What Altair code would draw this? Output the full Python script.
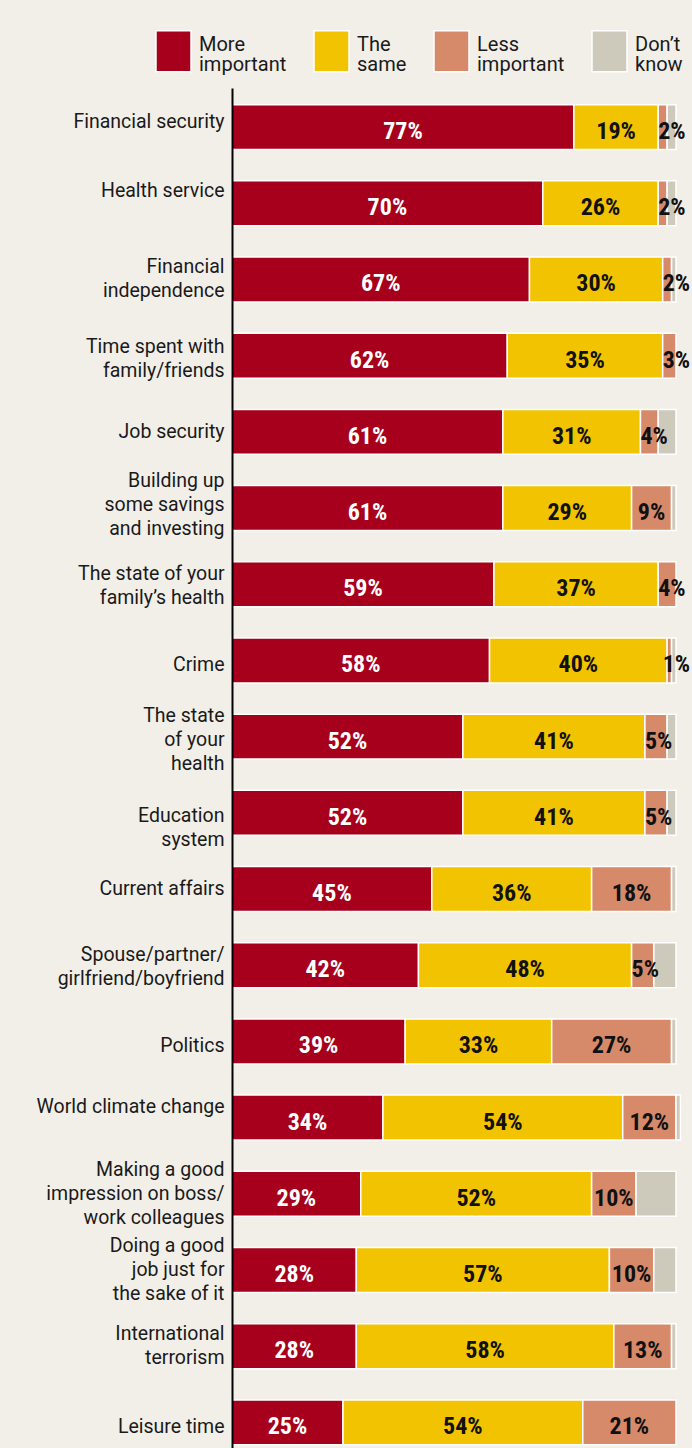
import altair as alt
import pandas as pd

categories = [
    "Financial security",
    "Health service",
    "Financial|independence",
    "Time spent with|family/friends",
    "Job security",
    "Building up|some savings|and investing",
    "The state of your|family\u2019s health",
    "Crime",
    "The state|of your|health",
    "Education|system",
    "Current affairs",
    "Spouse/partner/|girlfriend/boyfriend",
    "Politics",
    "World climate change",
    "Making a good|impression on boss/|work colleagues",
    "Doing a good|job just for|the sake of it",
    "International|terrorism",
    "Leisure time",
]
more_important = [77, 70, 67, 62, 61, 61, 59, 58, 52, 52, 45, 42, 39, 34, 29, 28, 28, 25]
the_same = [19, 26, 30, 35, 31, 29, 37, 40, 41, 41, 36, 48, 33, 54, 52, 57, 58, 54]
less_important = [2, 2, 2, 3, 4, 9, 4, 1, 5, 5, 18, 5, 27, 12, 10, 10, 13, 21]
dont_know = [2, 2, 1, 0, 4, 1, 0, 1, 2, 2, 1, 5, 1, 1, 9, 5, 1, 0]

responses = ["More important", "The same", "Less important", "Don\u2019t know"]
colors = ["#a6001c", "#f2c300", "#d68a6a", "#cdcabc"]

rows = []
for i, cat in enumerate(categories):
    vals = [more_important[i], the_same[i], less_important[i], dont_know[i]]
    s = 0
    for j, (resp, v) in enumerate(zip(responses, vals)):
        rows.append(dict(category=cat, response=resp, value=v, start=s, end=s + v, order=j))
        s += v
df = pd.DataFrame(rows)

LABEL_FONT = "Roboto"
NUM_FONT = "Liberation Sans Narrow, Roboto Condensed, DejaVu Sans Condensed, sans-serif"
LINE_H = 24

# label placement tweaks (styling): centre multi-line blocks, plus a few hand nudges
nudge = {
    "Financial security": -5,
    "Health service": -12,
    "Time spent with|family/friends": 3,
    "Building up|some savings|and investing": -3,
    "The state of your|family\u2019s health": 2,
    "Crime": 5,
    "The state|of your|health": 3,
    "Education|system": 15,
    "Spouse/partner/|girlfriend/boyfriend": 2,
    "Politics": 5,
    "World climate change": -11,
    "Leisure time": 5,
}
offset_conditions = []
for cat in categories:
    n_lines = len(cat.split("|"))
    off = -(n_lines - 1) * LINE_H / 2 + nudge.get(cat, 0)
    if off != 0:
        offset_conditions.append({"test": f"datum.value === '{cat}'", "value": off})

y_enc = alt.Y(
    "category:N",
    sort=categories,
    scale=alt.Scale(paddingInner=0.41, paddingOuter=0.13, align=0.84, round=False),
    axis=alt.Axis(
        title=None,
        labelExpr="split(datum.label, '|')",
        ticks=False,
        domainColor="black",
        domainWidth=2,
        labelPadding=8,
        labelFont=LABEL_FONT,
        labelFontSize=19.5,
        labelLineHeight=LINE_H,
        labelColor="#1a1a1a",
        labelLimit=230,
        labelBaseline="middle",
        labelOffset={"condition": offset_conditions, "value": 0},
        zindex=1,
    ),
)

base = alt.Chart(df)

bars = base.transform_filter("datum.value > 0").mark_bar(stroke="white", strokeWidth=1.5).encode(
    y=y_enc,
    x=alt.X("start:Q", scale=alt.Scale(domain=[0, 100], nice=False, zero=True), axis=None),
    x2="end:Q",
    color=alt.Color(
        "response:N",
        scale=alt.Scale(domain=responses, range=colors),
        legend=alt.Legend(
            title=None,
            orient="none",
            legendX=-80,
            legendY=-65,
            direction="horizontal",
            symbolType="M-0.854,-0.683H0.854V1.317H-0.854Z",
            symbolSize=1681,
            symbolStrokeColor="white",
            symbolStrokeWidth=1.5,
            symbolOpacity=1,
            labelFont=LABEL_FONT,
            labelFontSize=20,
            labelColor="#1a1a1a",
            labelOffset=4,
            labelLimit=200,
            labelExpr="split(datum.label, ' ')",
            columnPadding=23,
            padding=0,
        ),
    ),
)

big = (
    base.transform_filter("datum.order < 3 && datum.value > 6")
    .transform_calculate(mid="(datum.start + datum.end) / 2", pct="datum.value + '%'")
    .mark_text(align="center", baseline="alphabetic", dy=12, font=NUM_FONT, fontSize=24, fontWeight="bold")
    .encode(
        y=alt.Y("category:N", sort=categories),
        x=alt.X("mid:Q"),
        text="pct:N",
        color=alt.condition("datum.order == 0", alt.value("white"), alt.value("#111111")),
    )
)

small = (
    base.transform_filter("datum.order < 3 && datum.value > 0 && datum.value <= 6")
    .transform_calculate(lx="min(datum.start, 97)", pct="datum.value + '%'")
    .mark_text(align="left", baseline="alphabetic", dy=12, font=NUM_FONT, fontSize=24, fontWeight="bold")
    .encode(
        y=alt.Y("category:N", sort=categories),
        x=alt.X("lx:Q"),
        text="pct:N",
        color=alt.value("#111111"),
    )
)

chart = (
    alt.layer(bars, big, small)
    .properties(
        width=444,
        height=1360,
        autosize="none",
        padding={"left": 232, "top": 88, "right": 16, "bottom": 0},
        background="#f2efe9",
    )
    .configure(
        view=alt.ViewConfig(stroke=None),
        style={"guide-label": {"lineHeight": 20}},
    )
)

chart.save("out.html", embed_options={"renderer": "svg", "actions": False})
